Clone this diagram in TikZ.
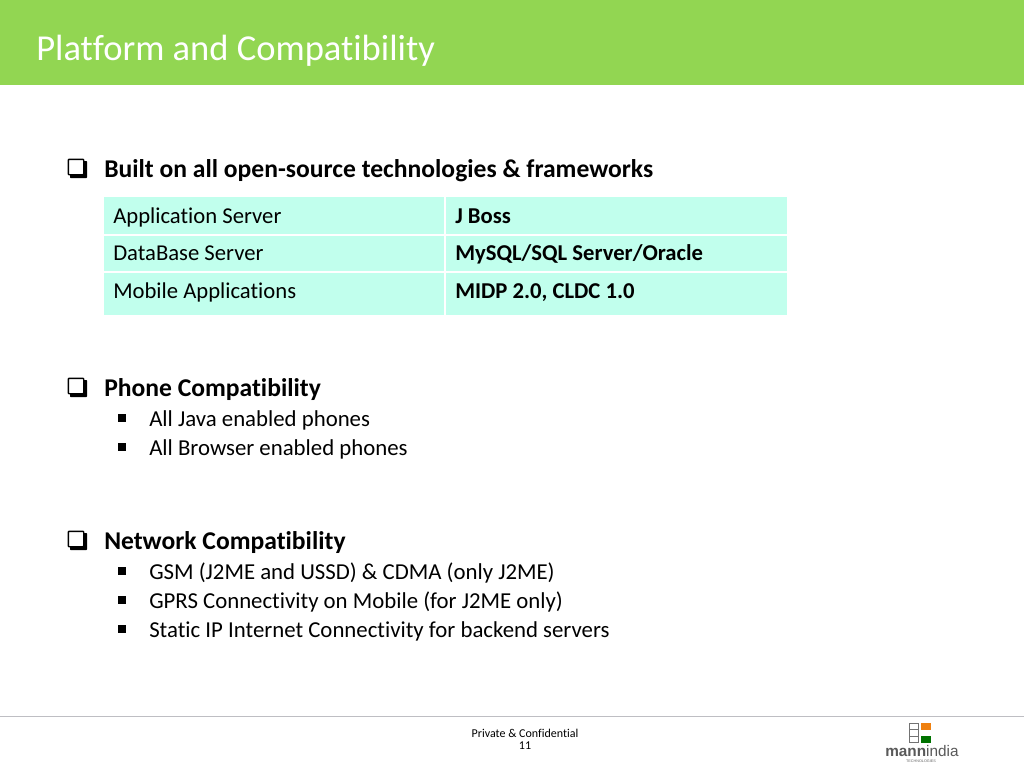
\documentclass[tikz,border=0pt]{standalone}
\usepackage{fontspec}
\setmainfont{Carlito}[Ligatures=NoCommon]
\newfontfamily\logofont{Liberation Sans}
\definecolor{bannergreen}{RGB}{146,214,82}
\definecolor{cellaqua}{RGB}{193,255,237}
\definecolor{rulegrey}{RGB}{190,190,195}
\tikzset{
    headtext/.style={anchor=base west, font=\fontsize{19.2}{22}\selectfont\bfseries, text=black, inner sep=0pt},
    itemtext/.style={anchor=base west, font=\fontsize{17.1}{20}\selectfont, text=black, inner sep=0pt},
    celltext/.style={anchor=base west, font=\fontsize{17}{20}\selectfont, text=black, inner sep=0pt},
    boldcell/.style={celltext, font=\fontsize{17}{20}\selectfont\bfseries},
    squarebullet/.style={fill=black, draw=none, minimum size=6pt, inner sep=0pt},
    checkbox/.style={draw=black, line width=1pt, rounded corners=0.5pt, fill=white, minimum size=11.5pt, inner sep=0pt},
    footertext/.style={font=\fontsize{9}{11}\selectfont, text=black, inner sep=0pt},
    logobox/.style={draw=black!55, line width=0.7pt, minimum width=7pt, minimum height=4.6pt, inner sep=0pt},
    logoflag/.style={draw=none, minimum width=6.8pt, minimum height=5.6pt, inner sep=0pt}
}
\newcommand{\checkitem}[2]{%
    \fill[black, rounded corners=0.5pt] (#2) ++(-6,-6) rectangle ++(17,17);
    \node[checkbox] (#1) at (#2) {};
}
\begin{document}
\begin{tikzpicture}[x=0.75pt,y=-0.75pt]
    \useasboundingbox (0,0) rectangle (1024,768);
    \fill[white] (0,0) rectangle (1024,768);

    % banner
    \fill[bannergreen] (0,0) rectangle (1024,85);
    \node[anchor=base west, font=\fontsize{27.4}{32}\selectfont, text=white, inner sep=0pt] (title) at (36,60) {Platform and Compatibility};

    % first heading and table
    \checkitem{boxa}{76,167}
    \node[headtext] (heada) at (104,177.5) {Built on all open-source technologies \& frameworks};

    \fill[cellaqua] (104,197) rectangle (444,234);
    \fill[cellaqua] (446,197) rectangle (787,234);
    \fill[cellaqua] (104,236) rectangle (444,271);
    \fill[cellaqua] (446,236) rectangle (787,271);
    \fill[cellaqua] (104,273) rectangle (444,315);
    \fill[cellaqua] (446,273) rectangle (787,315);

    \node[celltext] (appserver) at (113,223.5) {Application Server};
    \node[boldcell] (jboss) at (455,223.5) {J Boss};
    \node[celltext] (dbserver) at (113,260.5) {DataBase Server};
    \node[boldcell] (mysql) at (455,260.5) {MySQL/SQL Server/Oracle};
    \node[celltext] (mobileapps) at (113,298.5) {Mobile Applications};
    \node[boldcell] (midp) at (455,298.5) {MIDP 2.0, CLDC 1.0};

    % second heading
    \checkitem{boxb}{76,386}
    \node[headtext] (headb) at (104,396.5) {Phone Compatibility};
    \node[squarebullet] (dota) at (122,418) {};
    \node[itemtext] (java) at (149,426) {All Java enabled phones};
    \node[squarebullet] (dotb) at (122,447) {};
    \node[itemtext] (browser) at (149,455) {All Browser enabled phones};

    % third heading
    \checkitem{boxc}{76,539}
    \node[headtext] (headc) at (104,549.5) {Network Compatibility};
    \node[squarebullet] (dotc) at (122,571) {};
    \node[itemtext] (gsm) at (149,579) {GSM (J2ME and USSD) \& CDMA (only J2ME)};
    \node[squarebullet] (dotd) at (122,600) {};
    \node[itemtext] (gprs) at (149,608) {GPRS Connectivity on Mobile (for J2ME only)};
    \node[squarebullet] (dote) at (122,629) {};
    \node[itemtext] (staticip) at (149,637) {Static IP Internet Connectivity for backend servers};

    % footer
    \draw[rulegrey, line width=0.75pt] (0,716) -- (1024,716);
    \node[footertext] (private) at (525,733) {Private \& Confidential};
    \node[footertext] (pageno) at (525,746) {11};

    % logo
    \node[logobox] (loga) at (914,726.5) {};
    \node[logobox] (logb) at (914,733) {};
    \node[logobox] (logc) at (914,739.5) {};
    \node[logoflag, fill=orange!75!brown] (logd) at (926,727) {};
    \node[logoflag, fill=white] (loge) at (926,733.5) {};
    \node[logoflag, fill=green!45!black] (logf) at (926,739.5) {};
    \node[anchor=base west, inner sep=0pt, font=\logofont\fontsize{11.5}{13}\selectfont, text=black!65] (logoname) at (885,756) {\textbf{mann}india};
    \node[inner sep=0pt, font=\logofont\fontsize{2.8}{3}\selectfont, text=black!60] (logosub) at (921,761) {TECHNOLOGIES};
\end{tikzpicture}
\end{document}
